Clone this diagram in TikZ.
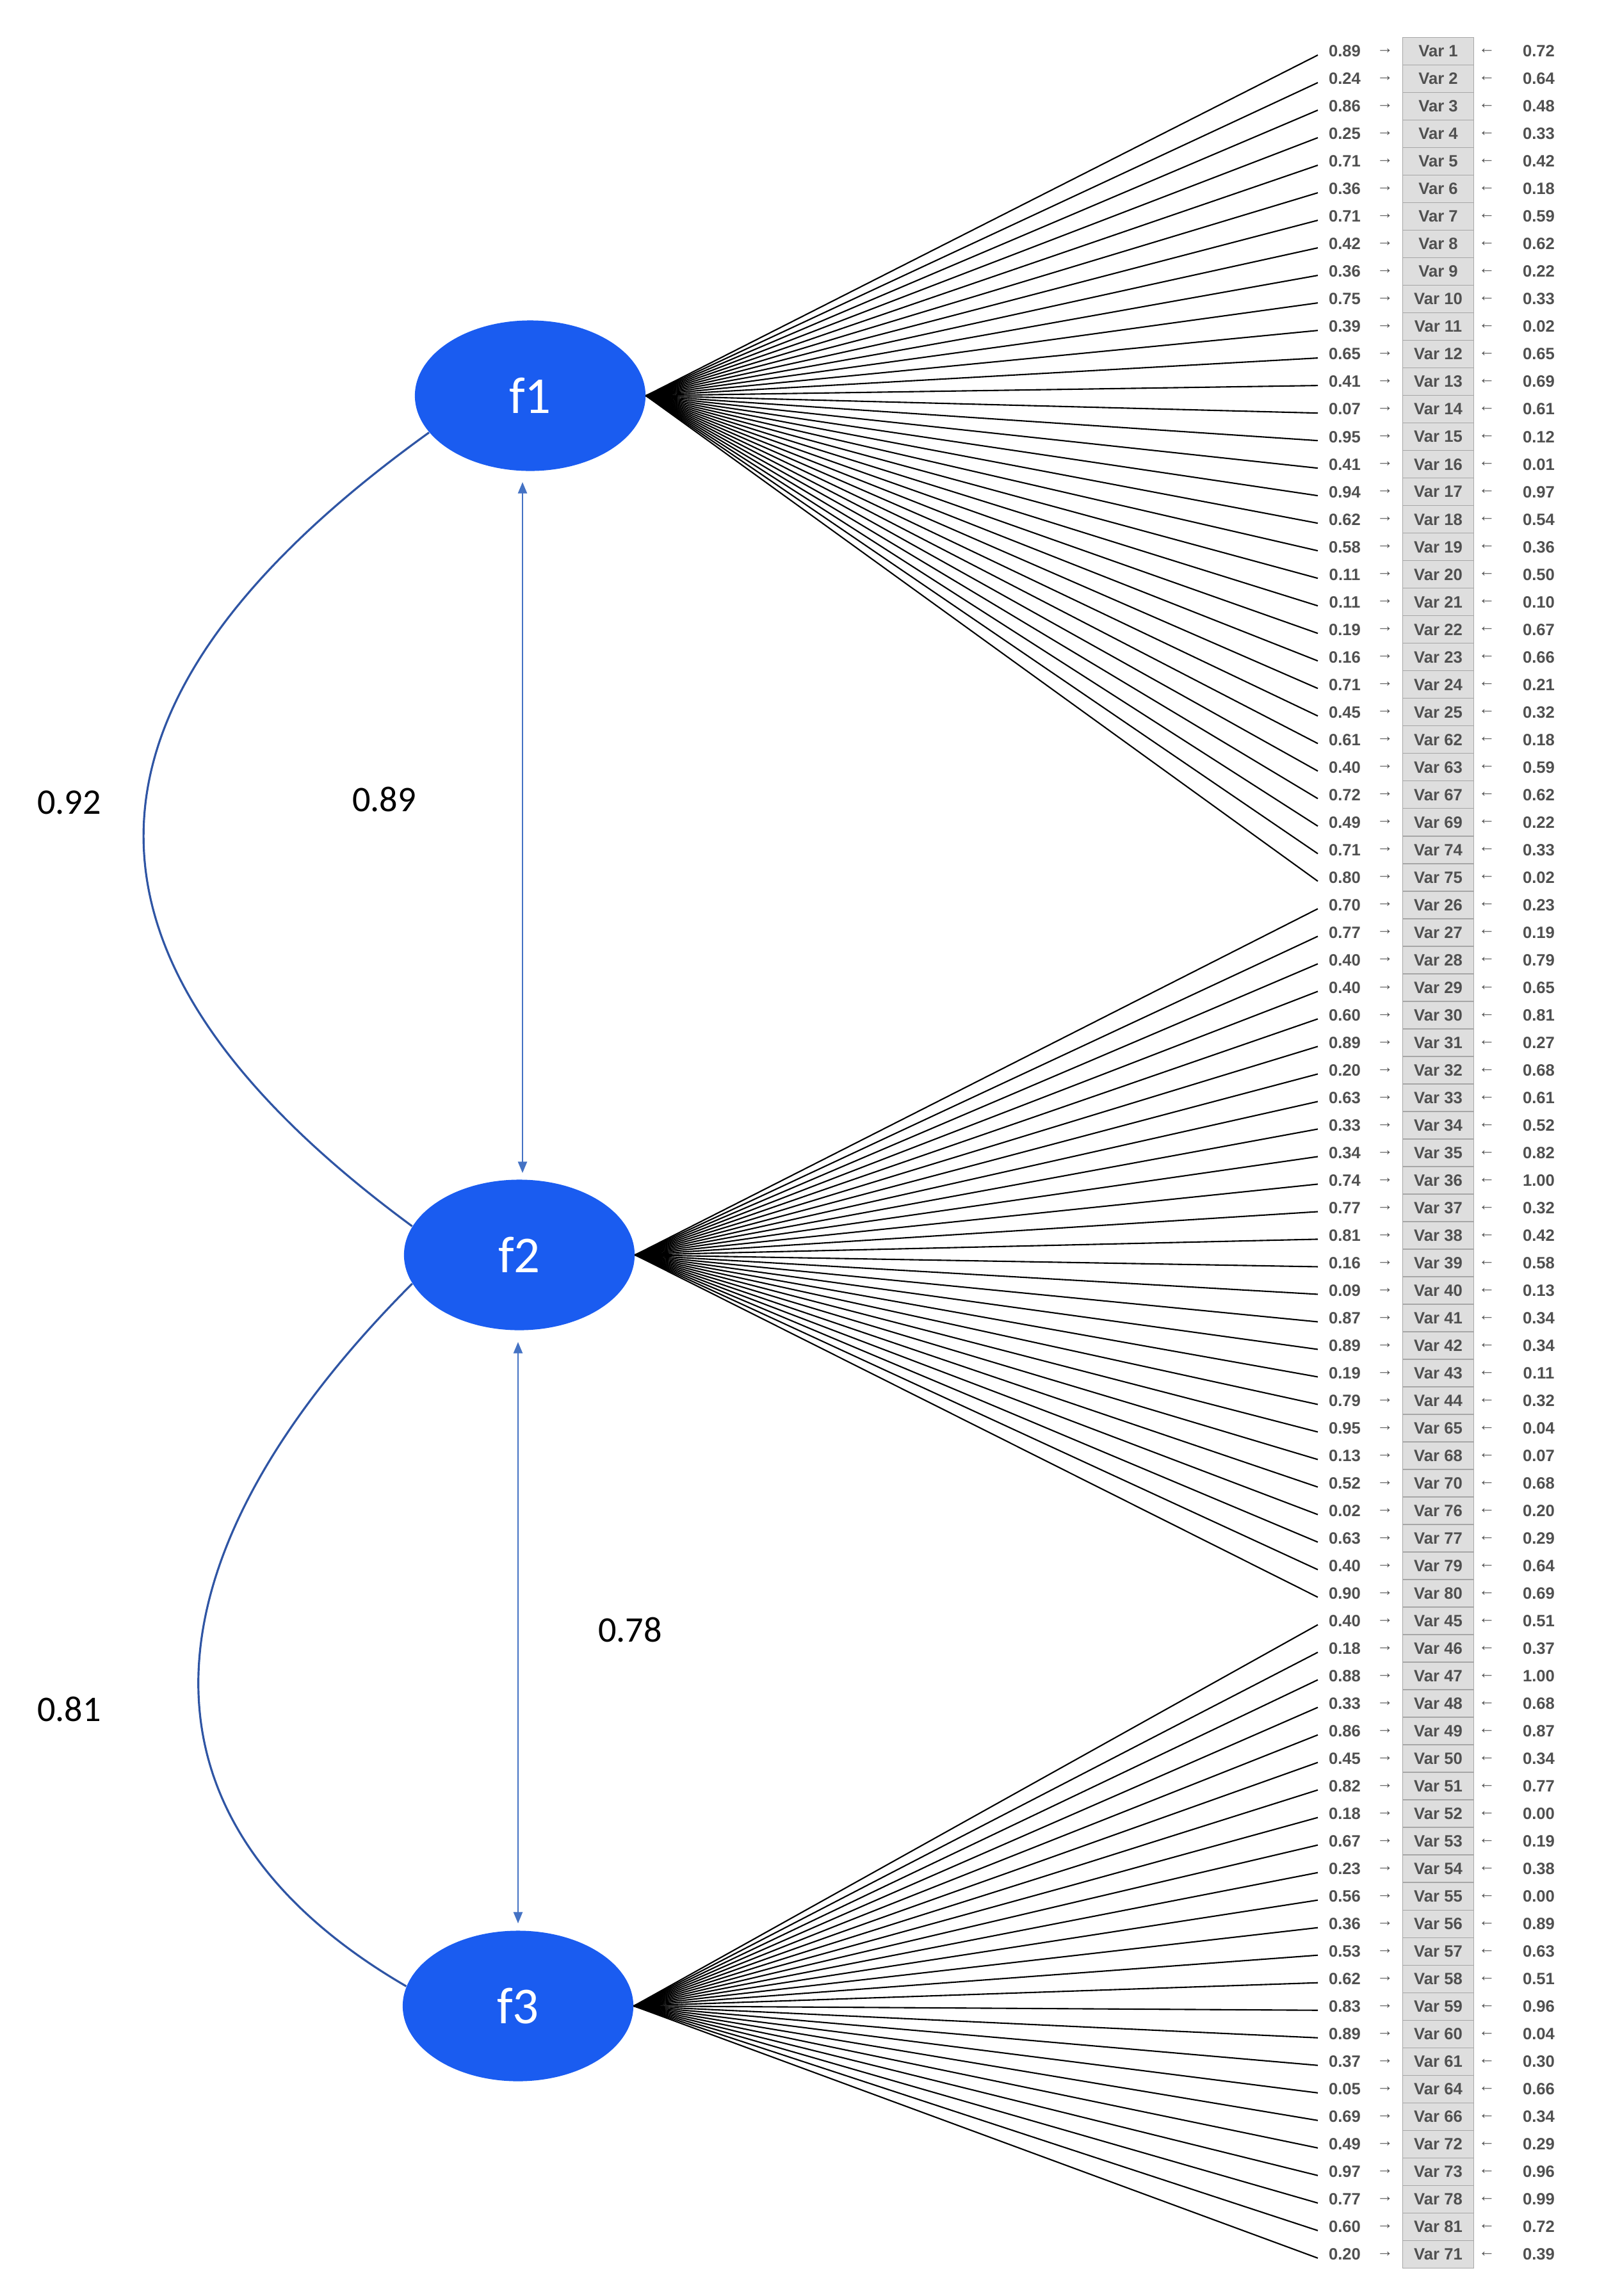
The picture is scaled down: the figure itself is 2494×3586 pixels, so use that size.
\documentclass[tikz,border=0pt]{standalone}
\usepackage{fontspec}
\setmainfont{Liberation Sans}
\newfontfamily\carlfont{Carlito}
\usetikzlibrary{shapes.geometric,arrows.meta}
\definecolor{fblue}{RGB}{26,92,240}
\definecolor{ablue}{RGB}{68,114,196}
\definecolor{cblue}{RGB}{47,85,164}
\definecolor{txtg}{RGB}{80,80,80}
\definecolor{boxg}{RGB}{222,222,222}
\begin{document}
\begin{tikzpicture}[x=0.01cm,y=-0.01cm,
  factor/.style={ellipse,fill=fblue,draw=none,minimum width=3.6cm,minimum height=2.35cm,text=white,font=\carlfont\fontsize{23}{26}\selectfont},
  lab/.style={font=\carlfont\fontsize{16}{18}\selectfont,text=black},
  val/.style={font=\fontsize{7.3}{9}\selectfont\bfseries,text=txtg,inner sep=0pt},
  cell/.style={draw=gray!70,fill=boxg,minimum width=1.11cm,minimum height=0.43cm,inner sep=0pt,font=\fontsize{7.3}{9}\selectfont\bfseries,text=txtg},
  load/.style={draw=black,line width=0.6pt},
  corr/.style={draw=ablue,line width=0.6pt,{Triangle[length=5pt,width=4pt]}-{Triangle[length=5pt,width=4pt]}},
  cov/.style={draw=cblue,line width=0.9pt}]
\useasboundingbox (0,0) rectangle (2494,3586);
\node[factor] (f1) at (828,618) {f1};
\node[factor] (f2) at (811,1960) {f2};
\node[factor] (f3) at (809,3133) {f3};
\coordinate (a1) at (816,753);
\coordinate (a2) at (816,1832);
\coordinate (a3) at (809,2096);
\coordinate (a4) at (809,3004);
\draw[corr] (a1) -- (a2);
\draw[corr] (a3) -- (a4);
\draw[cov] (f1.200) .. controls (80,1100) and (80,1500) .. (f2.165);
\draw[cov] (f2.195) .. controls (200,2450) and (200,2850) .. (f3.170);
\node[lab] (l1) at (108,1253) {0.92};
\node[lab] (l2) at (600,1248) {0.89};
\node[lab] (l3) at (984,2545) {0.78};
\node[lab] (l4) at (108,2669) {0.81};
\newcommand{\myrow}[5]{%
  \pgfmathsetmacro{\yy}{80+43.01*#1}
  \node[val] (L#1) at (2100,\yy) {#3};
  \node[val] (RA#1) at (2163,\yy) {→};
  \node[cell] (V#1) at (2246,\yy) {#2};
  \node[val] (LA#1) at (2322,\yy) {←};
  \node[val] (R#1) at (2403,\yy) {#4};
  \coordinate (E#1) at (2058,\yy+6);
  \draw[load] (#5.east) -- (E#1);
}
\foreach \n/\a/\b [count=\i from 0] in {Var 1/0.89/0.72,Var 2/0.24/0.64,Var 3/0.86/0.48,Var 4/0.25/0.33,Var 5/0.71/0.42,Var 6/0.36/0.18,Var 7/0.71/0.59,Var 8/0.42/0.62,Var 9/0.36/0.22,Var 10/0.75/0.33,Var 11/0.39/0.02,Var 12/0.65/0.65,Var 13/0.41/0.69,Var 14/0.07/0.61,Var 15/0.95/0.12,Var 16/0.41/0.01,Var 17/0.94/0.97,Var 18/0.62/0.54,Var 19/0.58/0.36,Var 20/0.11/0.50,Var 21/0.11/0.10,Var 22/0.19/0.67,Var 23/0.16/0.66,Var 24/0.71/0.21,Var 25/0.45/0.32,Var 62/0.61/0.18,Var 63/0.40/0.59,Var 67/0.72/0.62,Var 69/0.49/0.22,Var 74/0.71/0.33,Var 75/0.80/0.02}{\myrow{\i}{\n}{\a}{\b}{f1}}
\foreach \n/\a/\b [count=\i from 31] in {Var 26/0.70/0.23,Var 27/0.77/0.19,Var 28/0.40/0.79,Var 29/0.40/0.65,Var 30/0.60/0.81,Var 31/0.89/0.27,Var 32/0.20/0.68,Var 33/0.63/0.61,Var 34/0.33/0.52,Var 35/0.34/0.82,Var 36/0.74/1.00,Var 37/0.77/0.32,Var 38/0.81/0.42,Var 39/0.16/0.58,Var 40/0.09/0.13,Var 41/0.87/0.34,Var 42/0.89/0.34,Var 43/0.19/0.11,Var 44/0.79/0.32,Var 65/0.95/0.04,Var 68/0.13/0.07,Var 70/0.52/0.68,Var 76/0.02/0.20,Var 77/0.63/0.29,Var 79/0.40/0.64,Var 80/0.90/0.69}{\myrow{\i}{\n}{\a}{\b}{f2}}
\foreach \n/\a/\b [count=\i from 57] in {Var 45/0.40/0.51,Var 46/0.18/0.37,Var 47/0.88/1.00,Var 48/0.33/0.68,Var 49/0.86/0.87,Var 50/0.45/0.34,Var 51/0.82/0.77,Var 52/0.18/0.00,Var 53/0.67/0.19,Var 54/0.23/0.38,Var 55/0.56/0.00,Var 56/0.36/0.89,Var 57/0.53/0.63,Var 58/0.62/0.51,Var 59/0.83/0.96,Var 60/0.89/0.04,Var 61/0.37/0.30,Var 64/0.05/0.66,Var 66/0.69/0.34,Var 72/0.49/0.29,Var 73/0.97/0.96,Var 78/0.77/0.99,Var 81/0.60/0.72,Var 71/0.20/0.39}{\myrow{\i}{\n}{\a}{\b}{f3}}
\end{tikzpicture}
\end{document}
